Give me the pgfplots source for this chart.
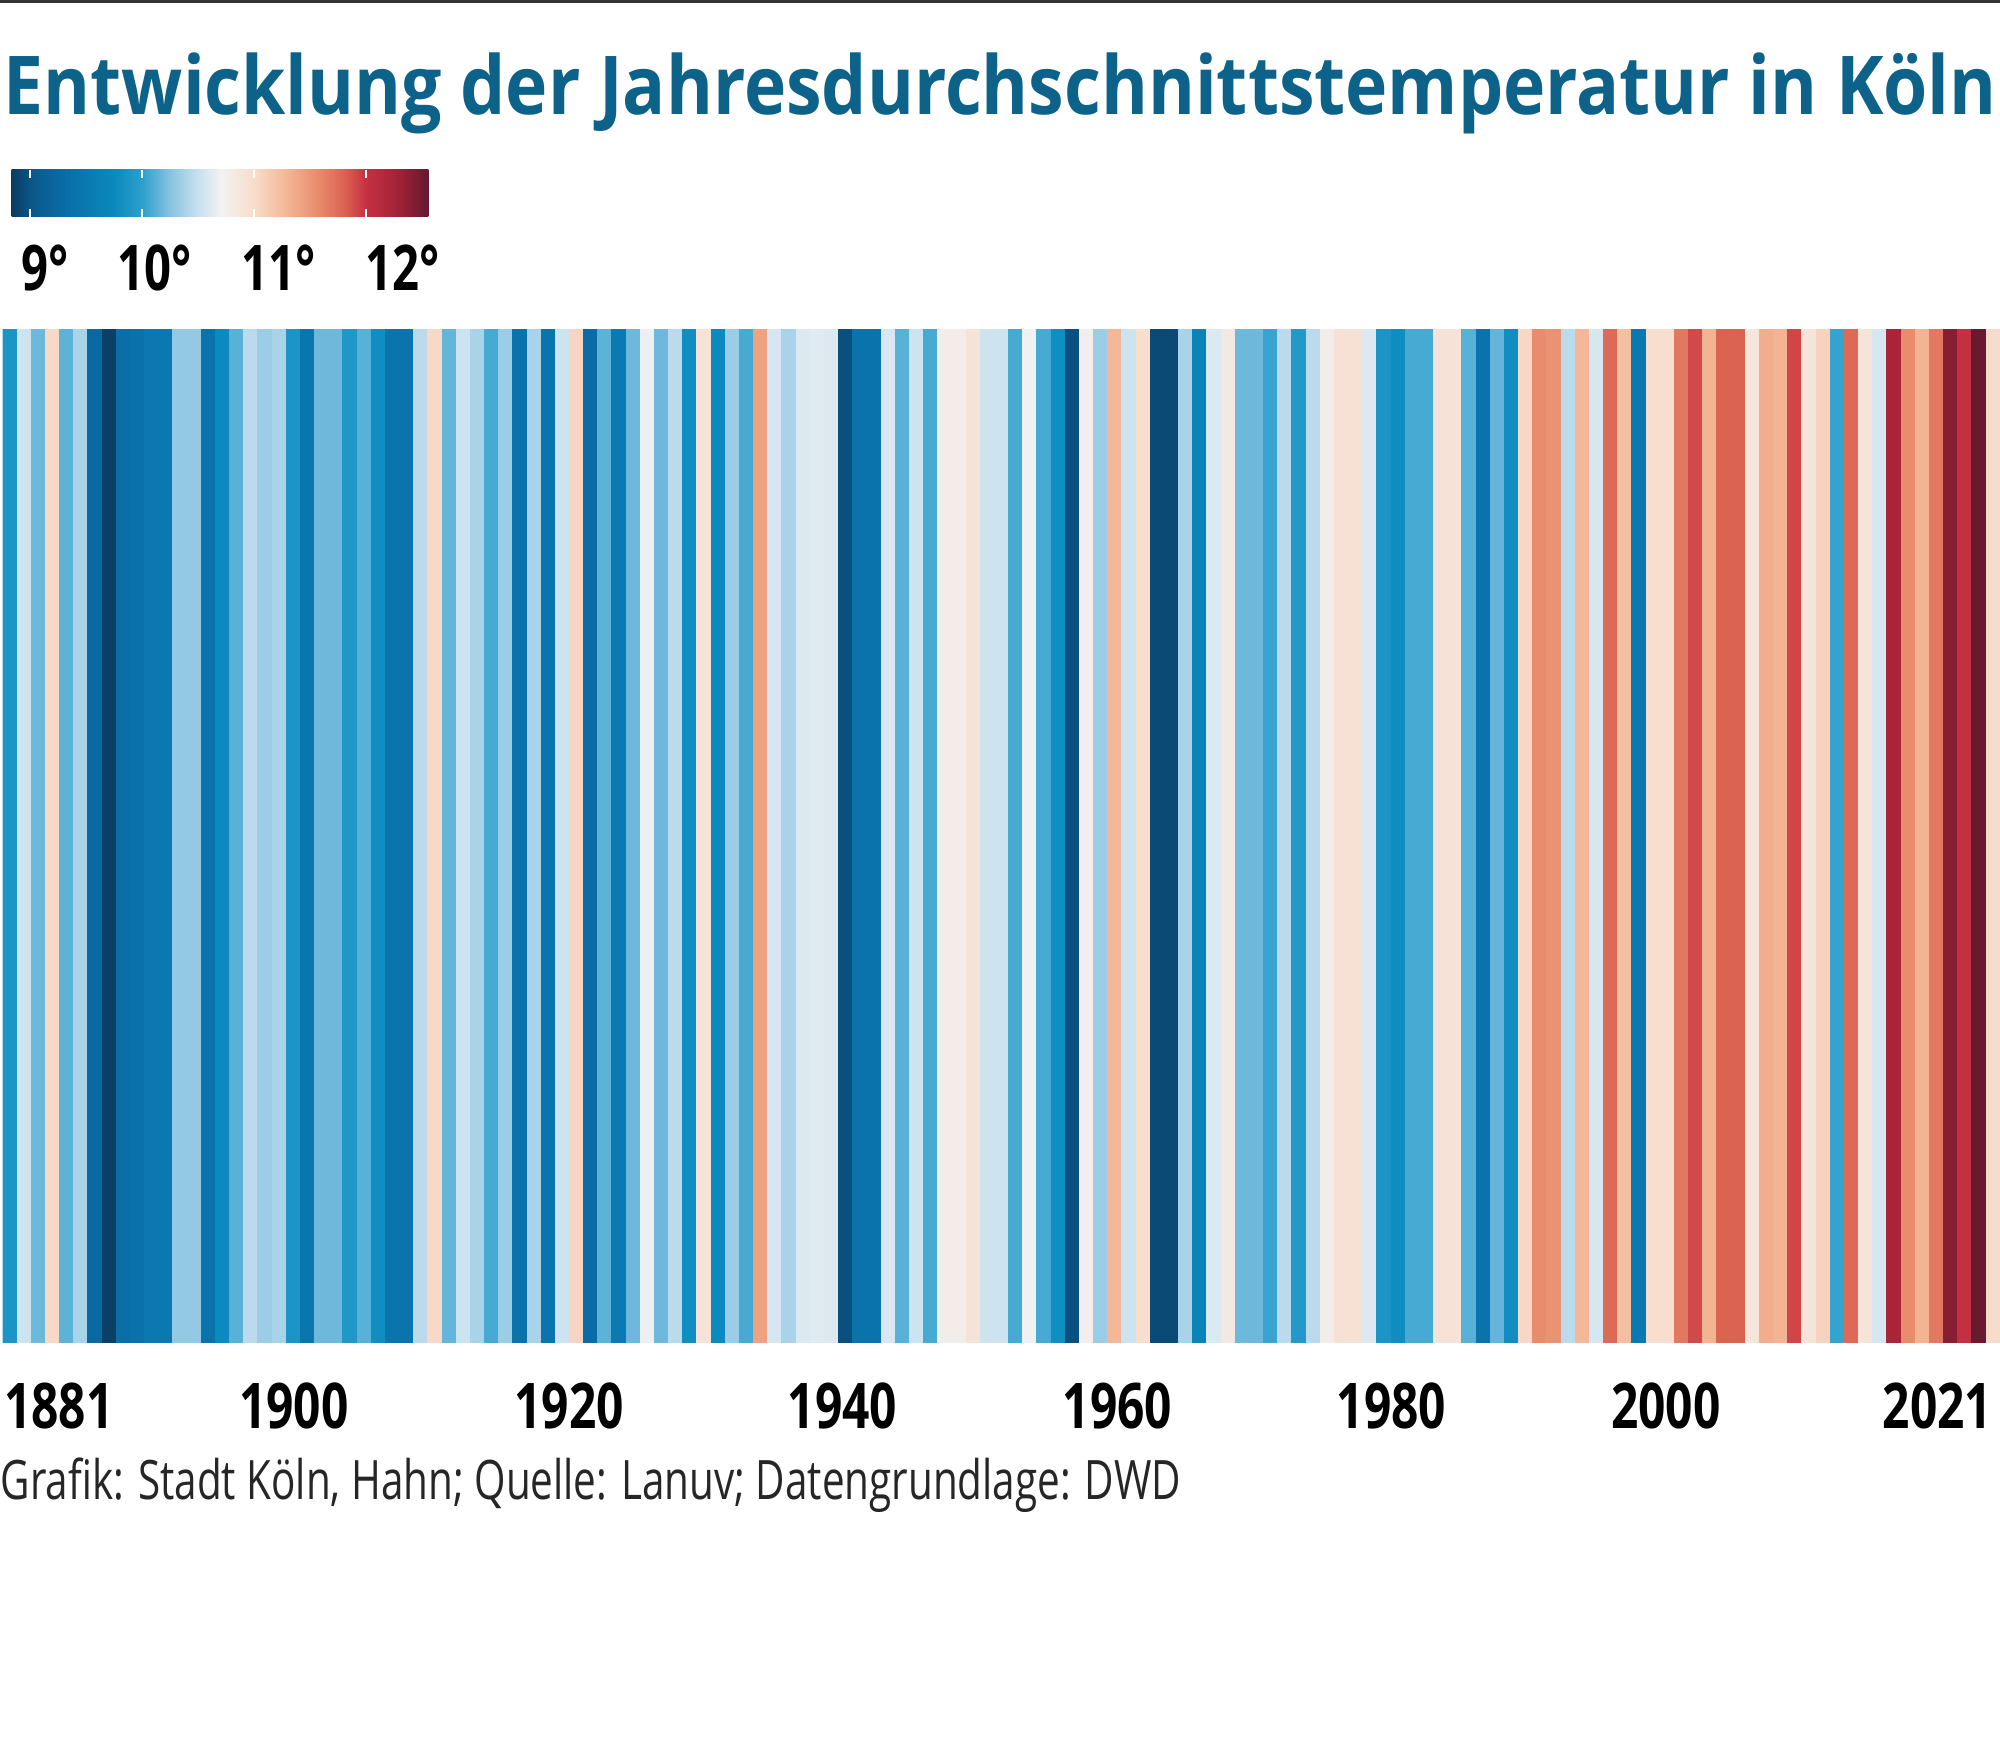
\documentclass[border=0pt]{standalone}
\usepackage{pgfplots}
\pgfplotsset{compat=1.18}
\usepackage{pgfplotstable}
\usepackage{graphicx}
\usepackage{fontspec}
\setmainfont{Open Sans}

\definecolor{titleblue}{RGB}{12,98,136}
\newcommand{\yr}[1]{\scalebox{0.76}[1]{#1}}
\newcommand{\dglab}[1]{\scalebox{0.75}[1]{#1}}

% one stripe = one marker, full axis height
\pgfdeclareplotmark{stripe}{%
  \pgfpathrectangle{\pgfpoint{-1.85pt}{-126.75pt}}{\pgfpoint{3.7pt}{253.5pt}}%
  \pgfusepathqfill}

% legend gradient 8.84 .. 12.56 degrees, mapped to 25bp .. 75bp
\pgfdeclarehorizontalshading{cbar}{100bp}{%
  rgb(0bp)=(0.043,0.235,0.384);
  rgb(25bp)=(0.043,0.235,0.384);
  rgb(27.86bp)=(0.039,0.361,0.561);
  rgb(31.22bp)=(0.039,0.424,0.651);
  rgb(37.27bp)=(0.039,0.541,0.745);
  rgb(40.64bp)=(0.176,0.627,0.804);
  rgb(44bp)=(0.529,0.765,0.882);
  rgb(47.36bp)=(0.784,0.882,0.941);
  rgb(50.18bp)=(0.949,0.949,0.949);
  rgb(54.08bp)=(0.973,0.863,0.796);
  rgb(57.84bp)=(0.957,0.718,0.588);
  rgb(61.74bp)=(0.910,0.549,0.420);
  rgb(65.1bp)=(0.855,0.373,0.314);
  rgb(67.52bp)=(0.776,0.188,0.259);
  rgb(70.88bp)=(0.659,0.141,0.220);
  rgb(75bp)=(0.396,0.094,0.184);
  rgb(100bp)=(0.396,0.094,0.184)}

% annual mean temperature, Koeln (read from stripe colours)
\pgfplotstableread{
year temp
1881 9.88
1882 10.52
1883 10.18
1884 11.02
1885 10.13
1886 10.38
1887 9.25
1888 8.86
1889 9.35
1890 9.38
1891 9.50
1892 9.50
1893 10.30
1894 10.30
1895 9.40
1896 9.75
1897 10.12
1898 10.45
1899 10.33
1900 10.38
1901 9.88
1902 9.45
1903 10.18
1904 10.18
1905 9.90
1906 10.12
1907 9.80
1908 9.42
1909 9.42
1910 10.45
1911 11.02
1912 10.15
1913 10.52
1914 10.38
1915 10.07
1916 10.33
1917 9.40
1918 10.38
1919 9.42
1920 10.52
1921 11.05
1922 9.30
1923 10.13
1924 9.52
1925 10.18
1926 10.68
1927 10.18
1928 10.45
1929 9.80
1930 10.92
1931 9.75
1932 10.33
1933 10.07
1934 11.42
1935 10.57
1936 10.38
1937 10.60
1938 10.62
1939 10.60
1940 8.97
1941 9.40
1942 9.40
1943 10.58
1944 10.12
1945 10.52
1946 10.07
1947 10.78
1948 10.78
1949 10.92
1950 10.53
1951 10.53
1952 10.07
1953 10.70
1954 10.07
1955 9.80
1956 8.97
1957 10.76
1958 10.33
1959 11.27
1960 10.52
1961 10.97
1962 8.93
1963 8.93
1964 10.38
1965 9.65
1966 10.60
1967 10.83
1968 10.18
1969 10.18
1970 10.03
1971 10.45
1972 9.92
1973 10.45
1974 10.78
1975 10.93
1976 10.93
1977 10.60
1978 9.88
1979 9.78
1980 10.07
1981 10.07
1982 10.92
1983 10.92
1984 10.12
1985 9.40
1986 10.15
1987 9.80
1988 11.03
1989 11.57
1990 11.52
1991 10.45
1992 11.27
1993 10.57
1994 11.76
1995 11.22
1996 9.50
1997 10.97
1998 10.97
1999 11.68
2000 11.90
2001 11.30
2002 11.80
2003 11.80
2004 10.87
2005 11.35
2006 11.30
2007 11.92
2008 10.90
2009 11.07
2010 10.02
2011 11.76
2012 10.90
2013 10.57
2014 12.24
2015 11.57
2016 11.30
2017 11.68
2018 12.40
2019 12.02
2020 12.54
2021 11.00
}\tempdata

\begin{document}
\begin{tikzpicture}
\path[use as bounding box] (0pt,0pt) rectangle (500pt,435.5pt);

% rule on top
\fill[black!80] (0pt,434.75pt) rectangle (500pt,435.5pt);

\node[anchor=base west, inner sep=0pt, text=titleblue,
  font=\bfseries\fontsize{20.3}{24}\selectfont] at (0.75pt,406.75pt)
  {\resizebox{498.3pt}{\height}{Entwicklung der Jahresdurchschnittstemperatur in Köln}};

% colour scale
\shade[shading=cbar] (2.925pt,381.25pt) rectangle (107.075pt,393pt);
\foreach \tx in {7.49,35.49,63.50,91.50} {
  \draw[white, line width=0.7pt] (\tx pt,393pt) -- ++(0,-1.9pt);
  \draw[white, line width=0.7pt] (\tx pt,381.25pt) -- ++(0,1.9pt);
}
\begin{scope}[every node/.style={anchor=base west, inner sep=0pt,
    font=\bfseries\fontsize{15.75}{18}\selectfont}]
\node at (5.25pt,362.75pt) {\dglab{9°}};
\node at (29.25pt,362.75pt) {\dglab{10°}};
\node at (60.25pt,362.75pt) {\dglab{11°}};
\node at (91.25pt,362.75pt) {\dglab{12°}};
\end{scope}

\begin{axis}[
  at={(0.675pt,99.75pt)}, anchor=south west,
  scale only axis,
  width=499.325pt, height=253.5pt,
  xmin=1880.5, xmax=2021.5,
  ymin=0, ymax=1,
  axis line style={draw=none},
  ytick=\empty,
  xtick={1884.47,1901.06,1920.48,1939.78,1959.2,1978.55,1997.9,2017.08},
  xticklabels={\yr{1881},\yr{1900},\yr{1920},\yr{1940},\yr{1960},\yr{1980},\yr{2000},\yr{2021}},
  xtick style={draw=none},
  major tick length=0pt,
  xticklabel style={font=\bfseries\fontsize{15.75}{18}\selectfont,
    anchor=base, yshift=-21.5pt, inner sep=0pt},
  colormap={koeln}{
    rgb255(884)=(11,60,98);
    rgb255(905)=(10,92,143);
    rgb255(930)=(10,108,166);
    rgb255(975)=(10,138,190);
    rgb255(1000)=(45,160,205);
    rgb255(1025)=(135,195,225);
    rgb255(1050)=(200,225,240);
    rgb255(1071)=(242,242,242);
    rgb255(1100)=(248,220,203);
    rgb255(1128)=(244,183,150);
    rgb255(1157)=(232,140,107);
    rgb255(1182)=(218,95,80);
    rgb255(1200)=(198,48,66);
    rgb255(1225)=(168,36,56);
    rgb255(1256)=(101,24,47)
  },
  point meta min=8.84, point meta max=12.56,
  clip marker paths=true,
]
\addplot[scatter, only marks, mark=stripe, point meta=explicit,
  scatter/use mapped color={draw=none, fill=mapped color}]
  table[x=year, y expr=0.5, meta=temp] {\tempdata};
\end{axis}

\node[anchor=base west, inner sep=0pt, text=black!85,
  font=\fontsize{13.6}{16}\selectfont] at (0pt,60.5pt)
  {\resizebox{295pt}{\height}{Grafik: Stadt Köln, Hahn; Quelle: Lanuv; Datengrundlage: DWD}};
\end{tikzpicture}
\end{document}
